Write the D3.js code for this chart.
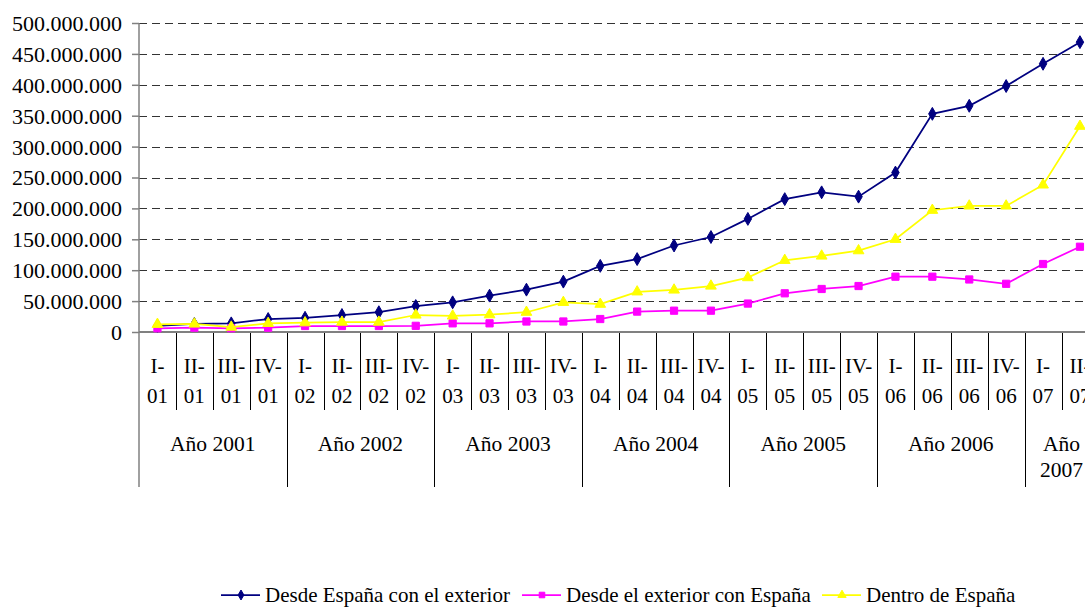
<!DOCTYPE html>
<html>
<head>
<meta charset="utf-8">
<script src="https://cdn.jsdelivr.net/npm/d3@7"></script>
<style>
  html, body { margin: 0; padding: 0; background: #fff; }
  svg { display: block; }
  svg text { font-family: "Liberation Serif", "Times New Roman", "DejaVu Serif", serif; }
</style>
</head>
<body>
<svg id="chart" width="1085" height="607"></svg>
<script>
// ---- data (values in millions) ----
const quarters = ["I-01","II-01","III-01","IV-01","I-02","II-02","III-02","IV-02",
  "I-03","II-03","III-03","IV-03","I-04","II-04","III-04","IV-04",
  "I-05","II-05","III-05","IV-05","I-06","II-06","III-06","IV-06","I-07","II-07"];
const years = ["Año 2001","Año 2002","Año 2003","Año 2004","Año 2005","Año 2006","Año 2007"];
const seriesNames = ["Desde España con el exterior","Desde el exterior con España","Dentro de España"];
const desdeEspana = [10, 13, 14, 21, 23, 27.5, 32, 42, 48, 58.8, 68.5, 81.5, 107, 118, 140, 153.7,
  183, 215, 226, 219, 258, 353, 366, 398, 434, 469];
const desdeExterior = [6, 7, 6, 7, 9.7, 9.7, 9.7, 10, 14, 14, 17, 17, 21, 33, 34.5, 34.5,
  46, 62.6, 69.6, 74.4, 89.5, 89.5, 85, 78, 110, 138];
const dentroEspana = [12.5, 13, 8, 14, 15, 16, 16, 27.5, 26, 28, 32, 48, 45, 65, 68, 74.4,
  88, 116, 123, 131.6, 150, 197, 204, 204, 238, 333];
const yTicks = [0, 50, 100, 150, 200, 250, 300, 350, 400, 450, 500];

(function () {
const FONT = "Liberation Serif, Times New Roman, serif";
const seriesValues = [desdeEspana, desdeExterior, dentroEspana];
const colors = ["#000080", "#FF00FF", "#FFFF00"];
const symbols = [d3.symbolDiamond, d3.symbolSquare, d3.symbolTriangle];
const symSizes = [48, 52, 50];

const svg = d3.select("#chart").attr("font-family", FONT);
const mLeft = 139, mTop = 23, mBottom = 332;
const bandW = 36.9;
const mRight = mLeft + quarters.length * bandW;

const x = d3.scaleBand().domain(quarters).range([mLeft, mRight]).padding(0);
const y = d3.scaleLinear().domain([0, 500]).range([mBottom, mTop]);

const loc = d3.formatLocale({decimal: ",", thousands: ".", grouping: [3], currency: ["", ""]});
const fmt = loc.format(",");

// gridlines
svg.append("g").selectAll("line").data(yTicks.filter(d => d > 0)).join("line")
  .attr("x1", mLeft).attr("x2", 1085)
  .attr("y1", d => Math.round(y(d)) + 0.5).attr("y2", d => Math.round(y(d)) + 0.5)
  .attr("stroke", "#333").attr("stroke-width", 1).attr("stroke-dasharray", "8,5");

// y axis
const yAxis = d3.axisLeft(y).tickValues(yTicks).tickSize(7).tickPadding(10)
  .tickFormat(d => fmt(d * 1e6));
const gy = svg.append("g").attr("transform", `translate(${mLeft},0)`).call(yAxis)
  .attr("font-family", FONT).attr("font-size", 22);
gy.select(".domain").remove();
gy.selectAll(".tick line").attr("stroke", "#808080").attr("stroke-width", 1.5);
gy.selectAll(".tick text").attr("fill", "#000").attr("dy", "0.34em");

// y axis line
svg.append("line").attr("x1", mLeft).attr("x2", mLeft).attr("y1", mTop).attr("y2", 487)
  .attr("stroke", "#808080").attr("stroke-width", 1.5);

// category axis: quarter separators
const qBounds = quarters.map(q => x(q)).slice(1);
svg.append("g").selectAll("line").data(qBounds).join("line")
  .attr("x1", d => Math.round(d) + 0.5).attr("x2", d => Math.round(d) + 0.5)
  .attr("y1", mBottom).attr("y2", (d, i) => ((i + 1) % 4 === 0 ? 487 : 410))
  .attr("stroke", "#000").attr("stroke-width", 1);

// x axis baseline
svg.append("line").attr("x1", mLeft).attr("x2", 1085).attr("y1", mBottom).attr("y2", mBottom)
  .attr("stroke", "#808080").attr("stroke-width", 2);

// quarter labels
const ql = svg.append("g").attr("font-size", 21).attr("text-anchor", "middle").attr("fill", "#000");
quarters.forEach(q => {
  const parts = q.split("-");
  const cx = x(q) + x.bandwidth() / 2;
  ql.append("text").attr("x", cx).attr("y", 373).text(parts[0] + "-");
  ql.append("text").attr("x", cx).attr("y", 403).text(parts[1]);
});

// year labels
const yl = svg.append("g").attr("font-size", 21.5).attr("text-anchor", "middle").attr("fill", "#000");
years.forEach((yr, i) => {
  const qs = quarters.slice(i * 4, i * 4 + 4);
  const x0 = x(qs[0]), x1 = x(qs[qs.length - 1]) + x.bandwidth();
  const cx = (x0 + x1) / 2;
  const t = yl.append("text").attr("x", cx).attr("y", 451).text(yr);
  if (t.node().getComputedTextLength() > (x1 - x0) - 6) {
    t.text(null);
    yr.split(" ").forEach((w, k) => {
      t.append("tspan").attr("x", cx).attr("y", 451 + k * 26).text(w);
    });
  }
});

// series
seriesValues.forEach((vals, s) => {
  const line = d3.line().x((d, i) => x(quarters[i]) + x.bandwidth() / 2).y(d => y(d));
  svg.append("path").datum(vals).attr("d", line).attr("fill", "none")
    .attr("stroke", colors[s]).attr("stroke-width", 1.75);
  svg.append("g").selectAll("path").data(vals).join("path")
    .attr("d", d3.symbol().type(symbols[s]).size(symSizes[s]))
    .attr("transform", (d, i) => `translate(${x(quarters[i]) + x.bandwidth() / 2},${y(d)})`)
    .attr("fill", colors[s]).attr("stroke", colors[s]).attr("stroke-width", 1);
});

// legend
const legendX = [221, 522, 822];
const lg = svg.append("g").attr("font-size", 21).attr("fill", "#000");
seriesNames.forEach((name, s) => {
  const lx = legendX[s];
  lg.append("line").attr("x1", lx).attr("x2", lx + 39).attr("y1", 595).attr("y2", 595)
    .attr("stroke", colors[s]).attr("stroke-width", 1.75);
  lg.append("path").attr("d", d3.symbol().type(symbols[s]).size(symSizes[s] * 0.6)())
    .attr("transform", `translate(${lx + 20},595)`).attr("fill", colors[s]).attr("stroke", colors[s]);
  lg.append("text").attr("x", lx + 44).attr("y", 602).text(name);
});
})();
</script>
</body>
</html>
